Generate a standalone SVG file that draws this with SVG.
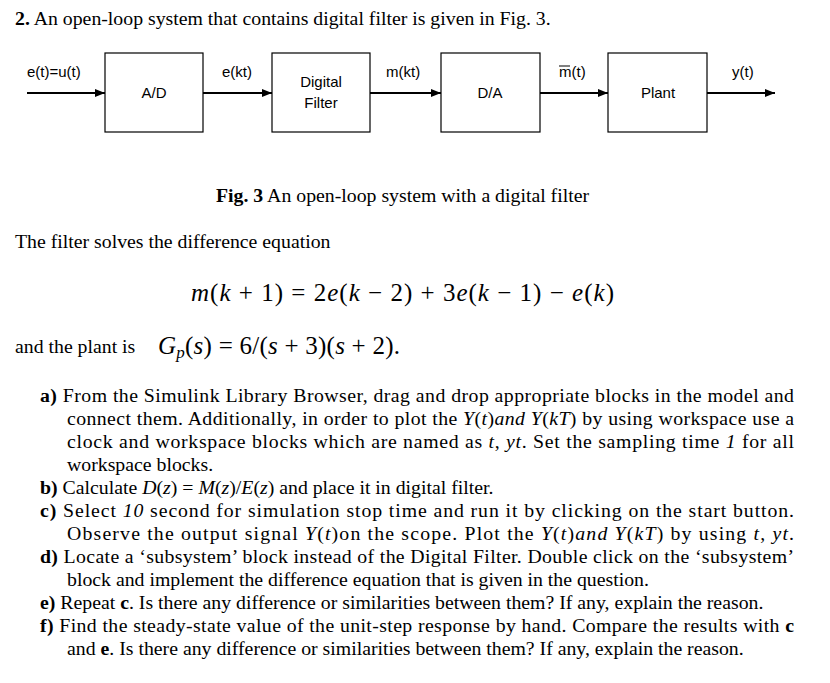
<svg xmlns="http://www.w3.org/2000/svg" width="830" height="683" viewBox="0 0 830 683">
<defs>
<marker id="ah" markerWidth="10" markerHeight="8" refX="10" refY="4" orient="auto" markerUnits="userSpaceOnUse"><path d="M0,0 L10,4 L0,8 Z" fill="#000"/></marker>
<style>
.b{fill:#fff;stroke:#000;stroke-width:1.2}
.s{font-family:"Liberation Sans",Arial,sans-serif;font-size:15px;fill:#000}
.t{font-family:"Liberation Serif","Times New Roman",serif;font-size:19.8px;fill:#000}
.e{font-family:"Liberation Serif","Times New Roman",serif;font-size:25px;fill:#000}
.c{stroke:#000;stroke-width:2;marker-end:url(#ah)}
</style>
</defs>
<rect width="830" height="683" fill="#fff"/>
<text class="t" x="15" y="25" font-weight="bold">2.<tspan font-weight="normal"> An open-loop system that contains digital filter is given in Fig. 3.</tspan></text>
<g id="connectors">
<line class="c" x1="27" y1="93" x2="105" y2="93"/>
<line class="c" x1="203" y1="93" x2="272" y2="93"/>
<line class="c" x1="370" y1="93" x2="441" y2="93"/>
<line class="c" x1="540" y1="93" x2="608" y2="93"/>
<line class="c" x1="707" y1="93" x2="775" y2="93"/>
<text class="s" x="27" y="77">e(t)=u(t)</text>
<text class="s" x="222" y="77">e(kt)</text>
<text class="s" x="386" y="77">m(kt)</text>
<text class="s" x="559" y="77">m(t)</text>
<line x1="559" y1="66" x2="570" y2="66" stroke="#000" stroke-width="1"/>
<text class="s" x="732" y="77">y(t)</text>
</g>
<g id="ad"><rect class="b" x="105" y="53" width="98" height="79"/><text class="s" x="154" y="98" text-anchor="middle">A/D</text></g>
<g id="filter"><rect class="b" x="272" y="53" width="98" height="79"/><text class="s" x="321" y="87" text-anchor="middle">Digital</text><text class="s" x="321" y="108" text-anchor="middle">Filter</text></g>
<g id="da"><rect class="b" x="441" y="53" width="99" height="79"/><text class="s" x="490" y="98" text-anchor="middle">D/A</text></g>
<g id="plant"><rect class="b" x="608" y="53" width="99" height="79"/><text class="s" x="658" y="98" text-anchor="middle">Plant</text></g>
<text class="t" x="216" y="202" font-weight="bold">Fig. 3<tspan font-weight="normal"> An open-loop system with a digital filter</tspan></text>
<text class="t" x="15" y="248">The filter solves the difference equation</text>
<text class="e" x="191" y="301" textLength="423" lengthAdjust="spacing"><tspan font-style="italic">m</tspan>(<tspan font-style="italic">k</tspan> + 1) = 2<tspan font-style="italic">e</tspan>(<tspan font-style="italic">k</tspan> − 2) + 3<tspan font-style="italic">e</tspan>(<tspan font-style="italic">k</tspan> − 1) − <tspan font-style="italic">e</tspan>(<tspan font-style="italic">k</tspan>)</text>
<text class="t" x="15" y="353">and the plant is</text>
<text class="e" x="158" y="354" textLength="242" lengthAdjust="spacing"><tspan font-style="italic">G</tspan><tspan font-style="italic" font-size="17" dy="4">p</tspan><tspan dy="-4">(</tspan><tspan font-style="italic">s</tspan>) = 6/(<tspan font-style="italic">s</tspan> + 3)(<tspan font-style="italic">s</tspan> + 2).</text>
<text class="t" x="40" y="402" textLength="754" lengthAdjust="spacing"><tspan font-weight="bold">a)</tspan> From the Simulink Library Browser, drag and drop appropriate blocks in the model and</text>
<text class="t" x="67" y="425" textLength="727" lengthAdjust="spacing">connect them. Additionally, in order to plot the <tspan font-style="italic">Y</tspan>(<tspan font-style="italic">t</tspan>)<tspan font-style="italic">and Y</tspan>(<tspan font-style="italic">kT</tspan>) by using workspace use a</text>
<text class="t" x="67" y="448" textLength="727" lengthAdjust="spacing">clock and workspace blocks which are named as <tspan font-style="italic">t</tspan>, <tspan font-style="italic">yt</tspan>. Set the sampling time <tspan font-style="italic">1</tspan> for all</text>
<text class="t" x="67" y="471">workspace blocks.</text>
<text class="t" x="40" y="494"><tspan font-weight="bold">b)</tspan> Calculate <tspan font-style="italic">D</tspan>(<tspan font-style="italic">z</tspan>) = <tspan font-style="italic">M</tspan>(<tspan font-style="italic">z</tspan>)/<tspan font-style="italic">E</tspan>(<tspan font-style="italic">z</tspan>) and place it in digital filter.</text>
<text class="t" x="40" y="517" textLength="754" lengthAdjust="spacing"><tspan font-weight="bold">c)</tspan> Select <tspan font-style="italic">10</tspan> second for simulation stop time and run it by clicking on the start button.</text>
<text class="t" x="67" y="540" textLength="727" lengthAdjust="spacing">Observe the output signal <tspan font-style="italic">Y</tspan>(<tspan font-style="italic">t</tspan>)on the scope. Plot the <tspan font-style="italic">Y</tspan>(<tspan font-style="italic">t</tspan>)<tspan font-style="italic">and Y</tspan>(<tspan font-style="italic">kT</tspan>) by using <tspan font-style="italic">t</tspan>, <tspan font-style="italic">yt</tspan>.</text>
<text class="t" x="40" y="563" textLength="754" lengthAdjust="spacing"><tspan font-weight="bold">d)</tspan> Locate a ‘subsystem’ block instead of the Digital Filter. Double click on the ‘subsystem’</text>
<text class="t" x="67" y="586">block and implement the difference equation that is given in the question.</text>
<text class="t" x="40" y="609"><tspan font-weight="bold">e)</tspan> Repeat <tspan font-weight="bold">c</tspan>. Is there any difference or similarities between them? If any, explain the reason.</text>
<text class="t" x="40" y="632" textLength="754" lengthAdjust="spacing"><tspan font-weight="bold">f)</tspan> Find the steady-state value of the unit-step response by hand. Compare the results with <tspan font-weight="bold">c</tspan></text>
<text class="t" x="67" y="655">and <tspan font-weight="bold">e</tspan>. Is there any difference or similarities between them? If any, explain the reason.</text>
</svg>
